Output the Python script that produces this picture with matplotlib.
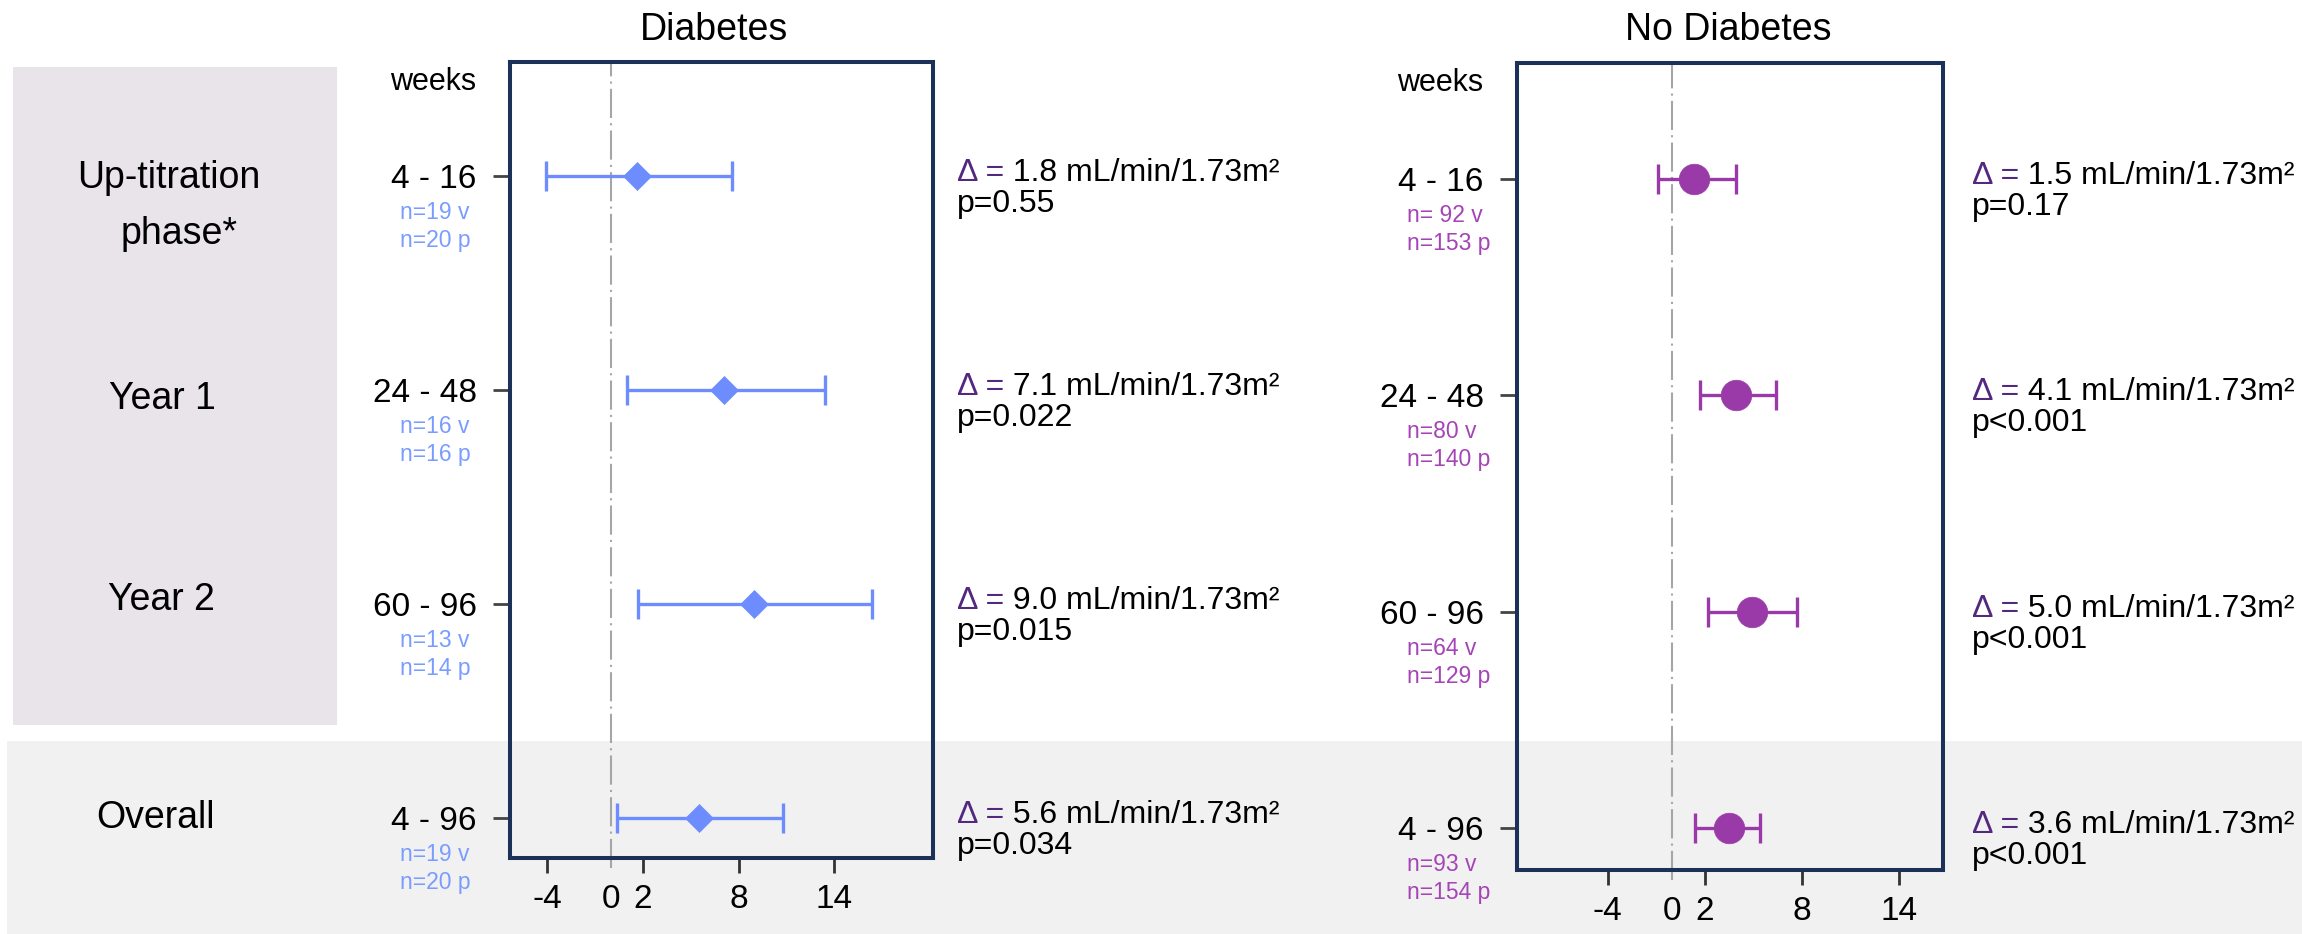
import matplotlib
matplotlib.use("Agg")
import matplotlib.pyplot as plt
from matplotlib.patches import Rectangle

plt.rcParams['font.family'] = ['Liberation Sans', 'DejaVu Sans']

W, H = 2302, 934

phases = ["Up-titration", "Year 1", "Year 2", "Overall"]
week_labels = ["4 - 16", "24 - 48", "60 - 96", "4 - 96"]
rows = [0, 1, 2, 3]

# Diabetes
dm_mid = [1.6, 7.1, 9.0, 5.5]
dm_lo = [-4.1, 1.0, 1.7, 0.4]
dm_hi = [7.6, 13.4, 16.4, 10.8]
dm_n_v = ["n=19 v", "n=16 v", "n=13 v", "n=19 v"]
dm_n_p = ["n=20 p", "n=16 p", "n=14 p", "n=20 p"]
dm_delta = ["1.8", "7.1", "9.0", "5.6"]
dm_p = ["p=0.55", "p=0.022", "p=0.015", "p=0.034"]

# No diabetes
nd_mid = [1.3, 3.9, 4.9, 3.5]
nd_lo = [-0.9, 1.7, 2.2, 1.4]
nd_hi = [3.9, 6.4, 7.7, 5.4]
nd_n_v = ["n= 92 v", "n=80 v", "n=64 v", "n=93 v"]
nd_n_p = ["n=153 p", "n=140 p", "n=129 p", "n=154 p"]
nd_delta = ["1.5", "4.1", "5.0", "3.6"]
nd_p = ["p=0.17", "p<0.001", "p<0.001", "p<0.001"]

xticks = [-4, 0, 2, 8, 14]

blue = '#6D8DFF'
blue_txt = '#7B9CFF'
purple = '#9A3AA8'
purple_txt = '#A544B6'
delta_col = '#52297F'
navy = '#1C3157'
PT = 0.72  # points per pixel at dpi 100

fig = plt.figure(figsize=(W / 100, H / 100), dpi=100)


def box(x0, y0, x1, y1):
    return [x0 / W, 1 - y1 / H, (x1 - x0) / W, (y1 - y0) / H]


# background shading
fig.add_artist(Rectangle((13 / W, 1 - 725 / H), 324 / W, 658 / H, transform=fig.transFigure,
                         facecolor='#E8E4EA', edgecolor='none', zorder=-10))
fig.add_artist(Rectangle((7 / W, 0), 1 - 7 / W, 1 - 741 / H, transform=fig.transFigure,
                         facecolor='#F1F1F1', edgecolor='none', zorder=-10))

ax1 = fig.add_axes(box(510, 62, 933, 858))
ax2 = fig.add_axes(box(1517, 63, 1943, 870))


def panel(ax, mid, lo, hi, col, ncol, n_v, n_p, delta, pvals, marker, ms, xlim, ylim, dx):
    ax.set_facecolor('none')
    ax.axvline(0, ymin=-0.013, ymax=1, color='#A6A6A6', lw=1.5,
               ls=(0, (14, 2.5, 1, 2.5)), clip_on=False, zorder=1)
    xerr = [[m - l for m, l in zip(mid, lo)], [h - m for m, h in zip(mid, hi)]]
    ax.errorbar(mid, rows, xerr=xerr, fmt='none', ecolor=col,
                elinewidth=2.4, capsize=10.5, capthick=2.4, zorder=3)
    ax.plot(mid, rows, ls='none', marker=marker, ms=ms, color=col, mec=col, mew=0.5, zorder=4)
    ax.set_xlim(*xlim)
    ax.set_ylim(*ylim)
    ax.set_xticks(xticks)
    ax.set_xticklabels([str(t) for t in xticks])
    ax.xaxis.get_major_ticks()[1].tick1line.set_visible(False)
    ax.set_yticks(rows)
    ax.set_yticklabels(week_labels)
    ax.tick_params(axis='x', length=11, width=2, color='#333333', labelsize=24, pad=8)
    ax.tick_params(axis='y', length=12, width=2, color='#444444', labelsize=24, pad=12)
    for s in ax.spines.values():
        s.set_color(navy)
        s.set_linewidth(2.9)
    ax.annotate('weeks', xy=(0, 1), xycoords='axes fraction', xytext=(-34 * PT, -28 * PT),
                textcoords='offset points', ha='right', va='baseline', fontsize=22)
    for r in rows:
        ax.annotate(n_v[r], xy=(0, r), xycoords=('axes fraction', 'data'),
                    xytext=(-110 * PT, -43 * PT), textcoords='offset points',
                    ha='left', va='baseline', fontsize=16.5, color=ncol)
        ax.annotate(n_p[r], xy=(0, r), xycoords=('axes fraction', 'data'),
                    xytext=(-110 * PT, -71 * PT), textcoords='offset points',
                    ha='left', va='baseline', fontsize=16.5, color=ncol)
        t1 = ax.annotate('\u0394 =', xy=(1, r), xycoords=('axes fraction', 'data'),
                         xytext=(dx * PT, -5 * PT), textcoords='offset points',
                         ha='left', va='baseline', fontsize=23, color=delta_col)
        ax.annotate(' ' + delta[r] + ' mL/min/1.73m\u00b2', xy=(1, 0), xycoords=t1,
                    ha='left', va='bottom', fontsize=23, color='black')
        ax.annotate(pvals[r], xy=(1, r), xycoords=('axes fraction', 'data'),
                    xytext=(dx * PT, -36 * PT), textcoords='offset points',
                    ha='left', va='baseline', fontsize=23, color='black')


panel(ax1, dm_mid, dm_lo, dm_hi, blue, blue_txt, dm_n_v, dm_n_p, dm_delta, dm_p,
      'D', 14.5, (-6.34, 20.2), (3.187, -0.533), 24)
panel(ax2, nd_mid, nd_lo, nd_hi, purple, purple_txt, nd_n_v, nd_n_p, nd_delta, nd_p,
      'o', 22, (-9.6, 16.7), (3.194, -0.536), 29)

fig.text(714 / W, 1 - 40 / H, 'Diabetes', ha='center', va='baseline', fontsize=27)
fig.text(1728 / W, 1 - 40 / H, 'No Diabetes', ha='center', va='baseline', fontsize=27)

label_pos = [(169, 188), (162, 409), (161, 610), (156, 828)]
for (x, y), lab in zip(label_pos, phases):
    fig.text(x / W, 1 - y / H, lab, ha='center', va='baseline', fontsize=27)
fig.text(179 / W, 1 - 244 / H, 'phase*', ha='center', va='baseline', fontsize=27)

fig.savefig('out.png', dpi=100)
